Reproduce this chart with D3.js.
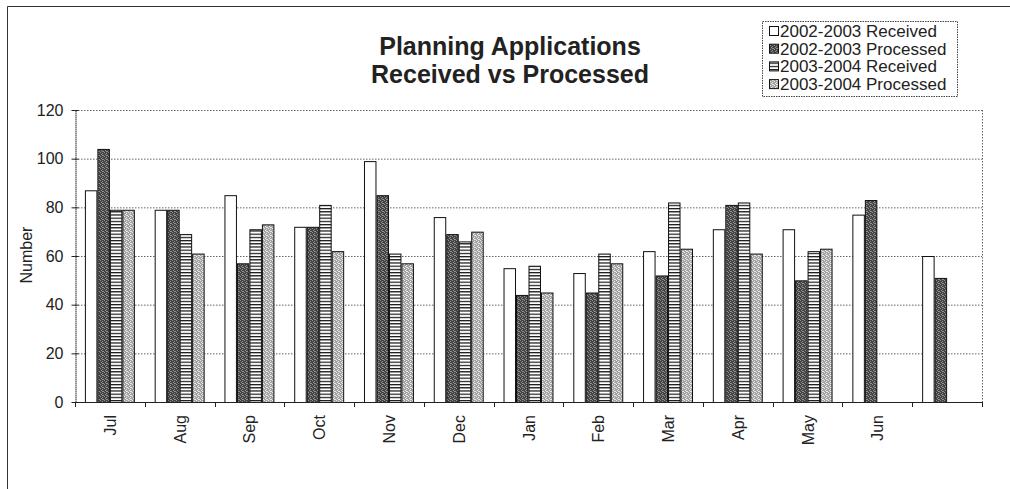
<!DOCTYPE html>
<html><head><meta charset="utf-8">
<script src="https://cdn.jsdelivr.net/npm/d3@7/dist/d3.min.js"></script>
<style>
body{margin:0;background:#fff;}
svg{display:block;font-family:"Liberation Sans",Arial,sans-serif;}
</style></head>
<body>
<svg id="c" width="1010" height="489"></svg>
<script>
const months = ["Jul","Aug","Sep","Oct","Nov","Dec","Jan","Feb","Mar","Apr","May","Jun",""];
const received0203  = [87,79,85,72,99,76,55,53,62,71,71,77,60];
const processed0203 = [104,79,57,72,85,69,44,45,52,81,50,83,51];
const received0304  = [79,69,71,81,61,66,56,61,82,82,62,null,null];
const processed0304 = [79,61,73,62,57,70,45,57,63,61,63,null,null];
const seriesNames = ["2002-2003 Received","2002-2003 Processed","2003-2004 Received","2003-2004 Processed"];
const yTicks = [0,20,40,60,80,100,120];

const series = [received0203, processed0203, received0304, processed0304];
const svg = d3.select("#c");

// patterns
const defs = svg.append("defs");
function dither(id, c1, c2){
  const p = defs.append("pattern").attr("id",id).attr("width",4).attr("height",4).attr("patternUnits","userSpaceOnUse");
  p.append("rect").attr("width",4).attr("height",4).attr("fill",c1);
  [[0,0],[2,1],[1,2],[3,3],[2,3]].forEach(([x,y])=>p.append("rect").attr("x",x).attr("y",y).attr("width",1).attr("height",1).attr("fill",c2));
}
dither("pDark","#444","#909090");
dither("pLight","#a4a4a4","#e8e8e8");
const ps = defs.append("pattern").attr("id","pStripe").attr("width",4).attr("height",3.2).attr("patternUnits","userSpaceOnUse");
ps.append("rect").attr("width",4).attr("height",3.2).attr("fill","#fff");
ps.append("rect").attr("y",0).attr("width",4).attr("height",1.2).attr("fill","#111");
const fills = ["#fff","url(#pDark)","url(#pStripe)","url(#pLight)"];

// outer chart border
svg.append("path").attr("d","M7.5,489 V6.5 H1010").attr("fill","none").attr("stroke","#333").attr("stroke-width",1);

const L = 75, R = 982, T = 110, B = 402;
const y = d3.scaleLinear().domain([0,120]).range([B,T]);
const p = 0.284;
const x = d3.scaleBand().domain(months.map((m,i)=>i)).range([L,R]).paddingInner(p).paddingOuter(p/2);
const xs = d3.scaleBand().domain(d3.range(series.length)).range([0,x.bandwidth()]);

// gridlines
svg.append("g").selectAll("line").data(yTicks.filter(v=>v>0)).join("line")
  .attr("x1",L).attr("x2",R).attr("y1",d=>y(d)+0.5).attr("y2",d=>y(d)+0.5)
  .attr("stroke","#666").attr("stroke-dasharray","1.5,1.5");
svg.append("line").attr("x1",R+0.5).attr("x2",R+0.5).attr("y1",T).attr("y2",B)
  .attr("stroke","#666").attr("stroke-dasharray","1.5,1.5");

// bars
const g = svg.append("g");
series.forEach((s,si)=>{
  g.selectAll(null).data(s.map((v,i)=>({v,i})).filter(d=>d.v!=null)).join("rect")
    .attr("x",d=>x(d.i)+xs(si)+0.5)
    .attr("width",xs.bandwidth()-1)
    .attr("y",d=>y(d.v)+0.5)
    .attr("height",d=>y(0)-y(d.v))
    .attr("fill",fills[si]).attr("stroke","#111").attr("stroke-width",1);
});

// y axis
const ya = svg.append("g").attr("transform",`translate(${L+0.5},0)`)
  .call(d3.axisLeft(y).tickValues(yTicks).tickSize(4).tickPadding(8).tickSizeOuter(0));
ya.select(".domain").attr("stroke","#222").attr("stroke-dasharray","1.5,0.5");
ya.selectAll(".tick line").attr("stroke","#222").attr("x2",-4).attr("x1",3);
ya.selectAll("text").attr("font-size",16).attr("fill","#222").attr("font-family","Liberation Sans, Arial");

// x axis
const step = x.step();
const bounds = d3.range(months.length+1).map(i=>L+i*step);
svg.append("line").attr("x1",L).attr("x2",R).attr("y1",B+0.5).attr("y2",B+0.5).attr("stroke","#222");
svg.append("g").selectAll("line").data(bounds).join("line")
  .attr("x1",d=>Math.round(d)+0.5).attr("x2",d=>Math.round(d)+0.5).attr("y1",B).attr("y2",B+5).attr("stroke","#222");
svg.append("g").selectAll("text").data(months.map((m,i)=>({m,i}))).join("text")
  .attr("transform",d=>`translate(${x(d.i)+x.bandwidth()/2+6},${B+13}) rotate(-90)`)
  .attr("text-anchor","end").attr("font-size",16).attr("fill","#222").text(d=>d.m);

// y title
svg.append("text").attr("transform","translate(32,255) rotate(-90)").attr("text-anchor","middle")
  .attr("font-size",16).attr("fill","#222").text("Number");

// title
const tt = svg.append("text").attr("text-anchor","middle").attr("font-size",25).attr("font-weight","bold").attr("fill","#222");
tt.append("tspan").attr("x",510).attr("y",55).text("Planning Applications");
tt.append("tspan").attr("x",510).attr("y",83).text("Received vs Processed");

// legend
const lg = svg.append("g").attr("transform","translate(762,21)");
lg.append("rect").attr("x",0.5).attr("y",0.5).attr("width",195).attr("height",75).attr("fill","#fff")
  .attr("stroke","#444").attr("stroke-dasharray","1.5,1");
seriesNames.forEach((n,i)=>{
  const base = 16 + i*17.7;
  lg.append("rect").attr("x",7.5).attr("y",base-10.5).attr("width",9).attr("height",9).attr("fill",fills[i]).attr("stroke","#111");
  lg.append("text").attr("x",18).attr("y",base).attr("font-size",17).attr("fill","#222").text(n);
});
</script>
</body></html>
